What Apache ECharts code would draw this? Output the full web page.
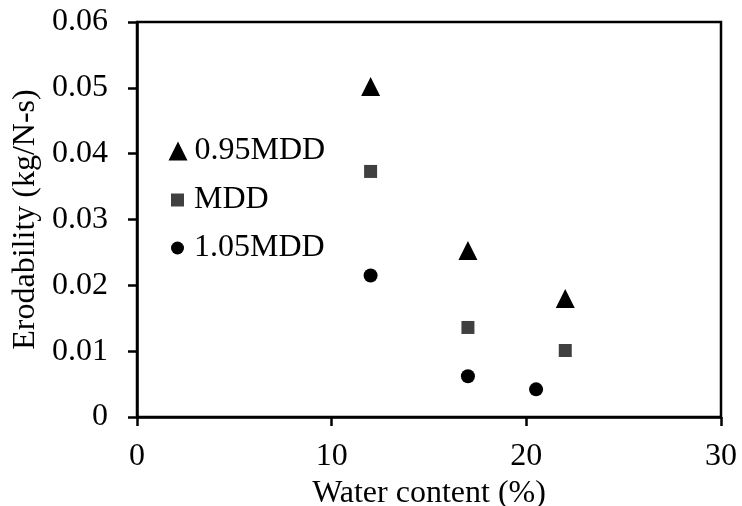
<!DOCTYPE html>
<html>
<head>
<meta charset="utf-8">
<script src="https://cdn.jsdelivr.net/npm/echarts@6/dist/echarts.min.js"></script>
<style>html,body{margin:0;padding:0;background:#fff}#c{width:742px;height:506px}</style>
</head>
<body>
<div id="c"></div>
<script>
const seriesNames = ['0.95MDD', 'MDD', '1.05MDD'];
const water095 = [12, 17, 22];
const erod095 = [0.0502, 0.0253, 0.0180];
const waterMDD = [12, 17, 22];
const erodMDD = [0.0373, 0.0136, 0.0101];
const water105 = [12, 17, 20.5];
const erod105 = [0.0215, 0.0062, 0.0042];
const xTickLabels = ['0', '10', '20', '30'];
const yTickLabels = ['0', '0.01', '0.02', '0.03', '0.04', '0.05', '0.06'];

const FONT = 'Liberation Serif';
const FS = 32;
const pair = (xs, ys) => xs.map((x, i) => [x, ys[i]]);

const chart = echarts.init(document.getElementById('c'), null, {renderer: 'canvas'});
const legendText = pad => ({fontFamily: FONT, fontSize: FS, color: '#000', lineHeight: 32, padding: [0, 0, 0, pad]});
const legendBase = {orient: 'vertical', padding: 0, selectedMode: false};
chart.setOption({
  animation: false,
  backgroundColor: '#fff',
  grid: {left: 137, right: 21, top: 22, bottom: 89, show: true, borderColor: '#000', borderWidth: 2.5,
    containLabel: false, outerBoundsMode: 'none'},
  legend: [
    Object.assign({}, legendBase, {data: [seriesNames[0]], left: 168.5, top: 135, itemWidth: 19, itemHeight: 19, textStyle: legendText(2)}),
    Object.assign({}, legendBase, {data: [seriesNames[1]], left: 171, top: 184, itemWidth: 13, itemHeight: 13, textStyle: legendText(5)}),
    Object.assign({}, legendBase, {data: [seriesNames[2]], left: 171, top: 232, itemWidth: 13, itemHeight: 13, textStyle: legendText(5)})
  ],
  xAxis: {
    type: 'value', min: 0, max: 30, interval: 10,
    name: 'Water content (%)', nameLocation: 'middle', nameGap: 56,
    nameTextStyle: {fontFamily: FONT, fontSize: FS, color: '#000'},
    axisLine: {show: true, lineStyle: {color: '#000', width: 2.5}},
    axisTick: {show: true, inside: false, length: 9, lineStyle: {color: '#000', width: 2.5}},
    axisLabel: {fontFamily: FONT, fontSize: FS, color: '#000', margin: 24,
      formatter: v => xTickLabels[Math.round(v / 10)]},
    splitLine: {show: false}
  },
  yAxis: {
    type: 'value', min: 0, max: 0.06, interval: 0.01,
    name: 'Erodability (kg/N-s)', nameLocation: 'middle', nameGap: 93,
    nameTextStyle: {fontFamily: FONT, fontSize: FS, color: '#000'},
    axisLine: {show: true, lineStyle: {color: '#000', width: 2.5}},
    axisTick: {show: true, inside: false, length: 9, lineStyle: {color: '#000', width: 2.5}},
    axisLabel: {fontFamily: FONT, fontSize: FS, color: '#000', margin: 29,
      formatter: v => yTickLabels[Math.round(v / 0.01)]},
    splitLine: {show: false}
  },
  series: [
    {name: seriesNames[0], type: 'scatter', symbol: 'triangle', symbolSize: 19,
      itemStyle: {color: '#000', opacity: 1}, data: pair(water095, erod095)},
    {name: seriesNames[1], type: 'scatter', symbol: 'rect', symbolSize: 13,
      itemStyle: {color: '#404040', opacity: 1}, data: pair(waterMDD, erodMDD)},
    {name: seriesNames[2], type: 'scatter', symbol: 'circle', symbolSize: 14,
      itemStyle: {color: '#000', opacity: 1}, data: pair(water105, erod105)}
  ]
});
</script>
</body>
</html>
